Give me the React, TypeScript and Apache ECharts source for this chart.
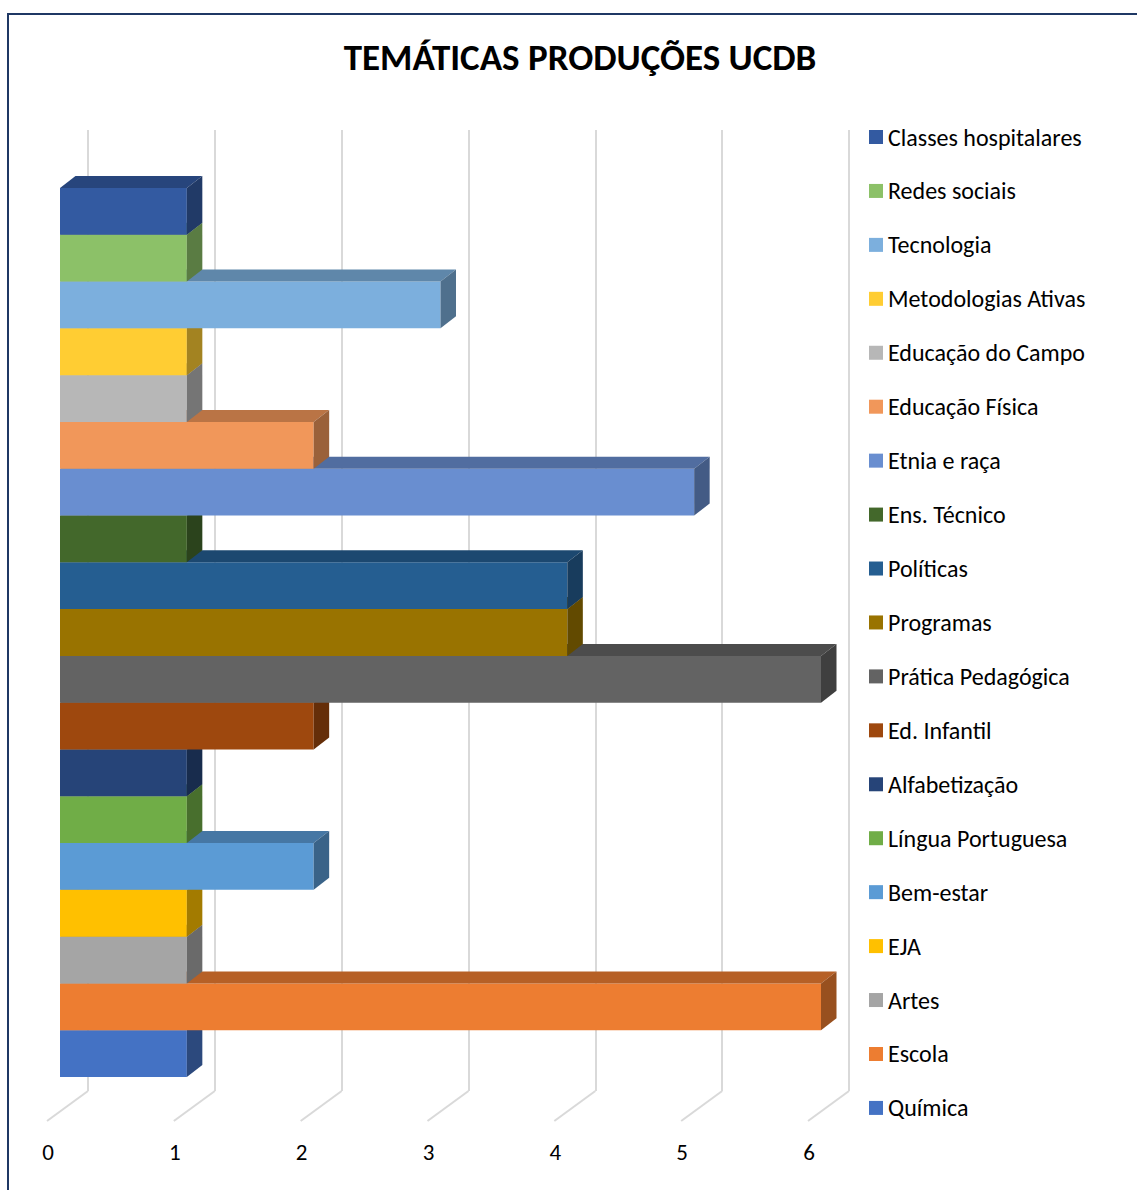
import React, { useEffect, useRef } from "react";
import * as echarts from "echarts";

const categories = [
  "Química",
  "Escola",
  "Artes",
  "EJA",
  "Bem-estar",
  "Língua Portuguesa",
  "Alfabetização",
  "Ed. Infantil",
  "Prática Pedagógica",
  "Programas",
  "Políticas",
  "Ens. Técnico",
  "Etnia e raça",
  "Educação Física",
  "Educação do Campo",
  "Metodologias Ativas",
  "Tecnologia",
  "Redes sociais",
  "Classes hospitalares",
];
const values = [1, 6, 1, 1, 2, 1, 1, 2, 6, 4, 4, 1, 5, 2, 1, 1, 3, 1, 1];
const colors = [
  "#4472C4",
  "#ED7D31",
  "#A5A5A5",
  "#FFC000",
  "#5B9BD5",
  "#70AD47",
  "#264478",
  "#9E480E",
  "#636363",
  "#997300",
  "#255E91",
  "#43682B",
  "#698ED0",
  "#F1975A",
  "#B7B7B7",
  "#FFCD33",
  "#7CAFDD",
  "#8CC168",
  "#335AA1",
];
const xTicks = [0, 1, 2, 3, 4, 5, 6];
const titleText = "TEMÁTICAS PRODUÇÕES UCDB";

const FONT = "Carlito, Calibri, Lato, sans-serif";

function shade(hex: string, f: number): string {
  const n = parseInt(hex.slice(1), 16);
  const r = Math.round(((n >> 16) & 255) * f);
  const g = Math.round(((n >> 8) & 255) * f);
  const b = Math.round((n & 255) * f);
  return "rgb(" + r + "," + g + "," + b + ")";
}

const DX = 15.5;
const DY = -12;

export default function App() {
  const ref = useRef<HTMLDivElement>(null);
  useEffect(() => {
    document.body.style.margin = "0";
    if (!ref.current) return;
    const chart = echarts.init(ref.current, undefined, { renderer: "svg" });

    const barSeries = categories.map((name, i) => ({
      type: "custom",
      name,
      coordinateSystem: "cartesian2d",
      xAxisIndex: 0,
      yAxisIndex: 0,
      itemStyle: { color: colors[i] },
      data: [[values[i], i]],
      encode: { x: 0, y: 1 },
      renderItem: (params: any, api: any) => {
        const v = api.value(0);
        const c = api.value(1);
        const p0 = api.coord([0, c]);
        const p1 = api.coord([v, c]);
        const band = api.size([0, 1])[1];
        const x0 = p0[0];
        const x1 = p1[0];
        const yT = p0[1] - band / 2;
        const yB = p0[1] + band / 2;
        const col = colors[i];
        return {
          type: "group",
          children: [
            {
              type: "rect",
              shape: { x: x0, y: yT, width: x1 - x0, height: band },
              style: { fill: col },
            },
            {
              type: "polygon",
              shape: {
                points: [
                  [x0, yT],
                  [x0 + DX, yT + DY],
                  [x1 + DX, yT + DY],
                  [x1, yT],
                ],
              },
              style: { fill: shade(col, 0.77) },
            },
            {
              type: "polygon",
              shape: {
                points: [
                  [x1, yT],
                  [x1 + DX, yT + DY],
                  [x1 + DX, yB + DY],
                  [x1, yB],
                ],
              },
              style: { fill: shade(col, 0.64) },
            },
          ],
        };
      },
    }));

    const floorSeries = {
      type: "custom",
      name: "floor",
      coordinateSystem: "cartesian2d",
      xAxisIndex: 1,
      yAxisIndex: 1,
      silent: true,
      z: 1,
      data: xTicks.map((k) => [k, 0]),
      encode: { x: 0, y: 1 },
      renderItem: (params: any, api: any) => {
        const p = api.coord([api.value(0), 0]);
        return {
          type: "line",
          shape: { x1: p[0], y1: p[1], x2: p[0] - 41, y2: p[1] + 30 },
          style: { stroke: "#D9D9D9", lineWidth: 2 },
        };
      },
    };

    chart.setOption({
      animation: false,
      backgroundColor: "#ffffff",
      graphic: [
        {
          type: "rect",
          shape: { x: 8, y: 14, width: 1150, height: 1200 },
          style: { fill: "none", stroke: "#1F3864", lineWidth: 2 },
          silent: true,
          z: 0,
        },
        {
          type: "text",
          x: 580,
          y: 57,
          style: {
            text: titleText,
            fontFamily: FONT,
            fontWeight: "bold",
            fontSize: 37,
            fill: "#000000",
            textAlign: "center",
            textVerticalAlign: "middle",
          },
        },
      ],
      grid: [
        { left: 60, top: 188, width: 761, height: 889 },
        { left: 88, top: 130, width: 761, height: 961 },
        { left: 48, top: 1100, width: 761, height: 30 },
      ],
      xAxis: [
        { gridIndex: 0, type: "value", min: 0, max: 6, interval: 1, show: false },
        {
          gridIndex: 1,
          type: "value",
          min: 0,
          max: 6,
          interval: 1,
          axisLine: { show: false },
          axisTick: { show: false },
          axisLabel: { show: false },
          splitLine: { show: true, lineStyle: { color: "#D9D9D9", width: 2 } },
        },
        {
          gridIndex: 2,
          type: "value",
          min: 0,
          max: 6,
          interval: 1,
          axisLine: { show: false },
          axisTick: { show: false },
          splitLine: { show: false },
          axisLabel: {
            show: true,
            fontFamily: FONT,
            fontSize: 23,
            color: "#000000",
            margin: 10,
          },
        },
      ],
      yAxis: [
        { gridIndex: 0, type: "category", data: categories, show: false },
        { gridIndex: 1, type: "value", min: 0, max: 1, show: false },
        { gridIndex: 2, type: "value", min: 0, max: 1, show: false },
      ],
      legend: {
        orient: "vertical",
        left: 869,
        top: 125,
        padding: 0,
        itemWidth: 14,
        itemHeight: 14,
        itemGap: 29.94,
        icon: "rect",
        selectedMode: false,
        data: categories.slice().reverse(),
        textStyle: {
          fontFamily: FONT,
          fontSize: 24,
          color: "#000000",
          lineHeight: 24,
        },
      },
      series: [floorSeries, ...barSeries],
    });

    return () => chart.dispose();
  }, []);
  return <div ref={ref} style={{ width: 1137, height: 1190 }} />;
}
